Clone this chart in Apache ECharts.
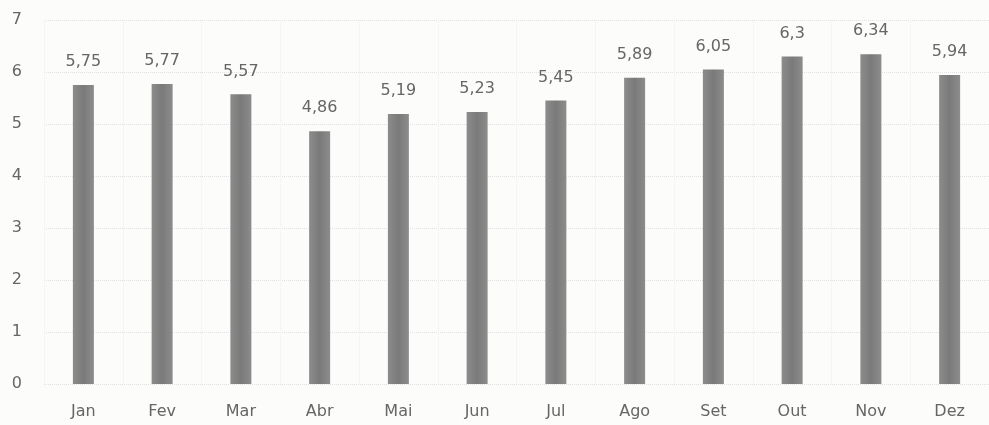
<!DOCTYPE html>
<html>
<head>
<meta charset="utf-8">
<script src="https://cdn.jsdelivr.net/npm/echarts@6/dist/echarts.min.js"></script>
<style>
  html, body { margin: 0; padding: 0; background: #fcfcfb; }
  #chart { width: 989px; height: 425px; }
</style>
</head>
<body>
<div id="chart"></div>
<script>
var meses = ['Jan', 'Fev', 'Mar', 'Abr', 'Mai', 'Jun', 'Jul', 'Ago', 'Set', 'Out', 'Nov', 'Dez'];
var valores = [5.75, 5.77, 5.57, 4.86, 5.19, 5.23, 5.45, 5.89, 6.05, 6.3, 6.34, 5.94];
var yTicks = [0, 1, 2, 3, 4, 5, 6, 7];

var chart = echarts.init(document.getElementById('chart'));
chart.setOption({
  backgroundColor: '#fcfcfb',
  textStyle: { fontFamily: '"DejaVu Sans", sans-serif' },
  grid: { left: 44, top: 20, bottom: 41, width: 954 },
  xAxis: {
    type: 'category',
    data: meses,
    axisLine: { show: false },
    axisTick: { show: false },
    splitLine: { show: true, lineStyle: { color: '#ededed', type: 'dotted' } },
    axisLabel: { color: '#666', fontSize: 16, margin: 20 }
  },
  yAxis: {
    type: 'value',
    min: yTicks[0],
    max: yTicks[yTicks.length - 1],
    interval: 1,
    axisLine: { show: false },
    axisTick: { show: false },
    splitLine: { lineStyle: { color: '#e2e2e2', type: 'dotted' } },
    axisLabel: { color: '#666', fontSize: 16, margin: 22 }
  },
  series: [
    {
      type: 'bar',
      data: valores,
      barWidth: 21,
      itemStyle: {
        color: new echarts.graphic.LinearGradient(0, 0, 1, 0, [
          { offset: 0, color: '#8c8c8c' },
          { offset: 0.5, color: '#7a7a7a' },
          { offset: 1, color: '#8c8c8c' }
        ])
      },
      label: {
        show: true,
        position: 'top',
        distance: 15,
        color: '#666',
        fontSize: 16,
        formatter: function (p) { return String(p.value).replace('.', ','); }
      }
    }
  ]
});
</script>
</body>
</html>
